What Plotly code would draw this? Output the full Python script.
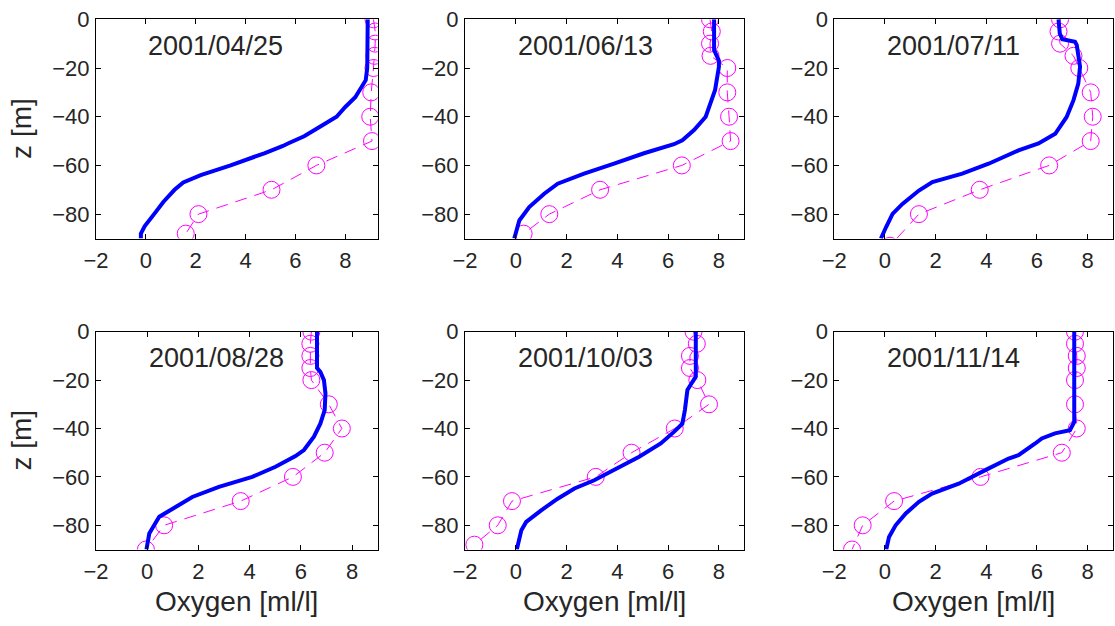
import plotly.graph_objects as go

# dates of the six casts
dates = ['2001/04/25', '2001/06/13', '2001/07/11', '2001/08/28', '2001/10/03', '2001/11/14']

# observed oxygen (circles), depth in m
obs_z_0425 = [0, -5, -10, -15, -20, -30, -40, -50, -60, -70, -80, -88]
obs_x_0425 = [9.13, 9.2, 9.2, 9.17, 9.13, 9.04, 9.0, 9.07, 6.84, 5.04, 2.11, 1.6]
obs_z_0613 = [0, -5, -10, -15, -20, -30, -40, -50, -60, -70, -80, -88]
obs_x_0613 = [7.65, 7.72, 7.65, 7.67, 8.33, 8.33, 8.4, 8.46, 6.54, 3.32, 1.32, 0.31]
obs_z_0711 = [0, -5, -10, -15, -20, -30, -40, -50, -60, -70, -80, -93]
obs_x_0711 = [6.91, 6.85, 6.91, 7.44, 7.67, 8.12, 8.2, 8.12, 6.48, 3.74, 1.34, 0.2]
obs_z_0828 = [0, -5, -10, -15, -20, -30, -40, -50, -60, -70, -80, -90]
obs_x_0828 = [6.41, 6.37, 6.37, 6.37, 6.41, 7.09, 7.6, 6.93, 5.69, 3.65, 0.66, -0.05]
obs_z_1003 = [0, -5, -10, -15, -20, -30, -40, -50, -60, -70, -80, -88]
obs_x_1003 = [7.0, 7.13, 6.86, 6.86, 7.15, 7.61, 6.26, 4.56, 3.15, -0.15, -0.71, -1.63]
obs_z_1114 = [0, -5, -10, -15, -20, -30, -40, -50, -60, -70, -80, -90]
obs_x_1114 = [7.5, 7.5, 7.57, 7.57, 7.5, 7.5, 7.57, 6.98, 3.77, 0.36, -0.88, -1.3]

# modelled oxygen (blue line)
mod_z_0425 = [0, -10, -20, -25, -28, -32, -36, -40, -44, -48, -51, -52, -55, -60, -64, -67, -70, -75, -80, -85, -88, -90]
mod_x_0425 = [8.9, 8.9, 8.88, 8.82, 8.65, 8.4, 8.0, 7.65, 7.0, 6.35, 5.7, 5.5, 4.75, 3.4, 2.2, 1.5, 1.15, 0.7, 0.33, -0.05, -0.2, -0.2]
mod_z_0613 = [0, -12.6, -17, -19.5, -29, -40, -45.5, -49.7, -51.3, -55, -59.3, -63.4, -67.5, -71.6, -77.1, -82.6, -90]
mod_x_0613 = [7.81, 7.81, 8.0, 8.0, 7.85, 7.48, 7.02, 6.56, 6.23, 5.05, 3.87, 2.69, 1.65, 1.12, 0.53, 0.14, -0.06]
mod_z_0711 = [0, -5.8, -8.2, -9.2, -10.6, -14, -19.5, -26.4, -33.2, -40.1, -47, -51, -53.8, -59.3, -63.4, -66.8, -70.3, -75.8, -79.9, -85.4, -90]
mod_x_0711 = [6.85, 6.9, 7.0, 7.5, 7.57, 7.63, 7.7, 7.63, 7.44, 7.17, 6.72, 6.06, 5.27, 4.09, 3.05, 1.87, 1.34, 0.69, 0.3, 0.04, -0.16]
mod_z_0828 = [0, -15, -16.6, -20, -25.5, -32.4, -38, -43.4, -48.9, -51.4, -55.8, -60, -64.1, -68.3, -72.4, -76.5, -80, -83.4, -90]
mod_x_0828 = [6.63, 6.63, 6.76, 6.9, 6.96, 6.93, 6.76, 6.51, 6.12, 5.79, 5.01, 4.1, 2.8, 1.76, 1.11, 0.47, 0.27, 0.08, -0.03]
mod_z_1003 = [0, -18.6, -20.7, -24.1, -32.4, -38, -41.4, -46.2, -51.7, -57.2, -61.4, -64.8, -69, -73.8, -78.6, -82, -90]
mod_x_1003 = [7.09, 7.09, 6.96, 6.76, 6.66, 6.56, 6.23, 5.71, 4.86, 3.87, 3.09, 2.31, 1.65, 1.0, 0.41, 0.22, 0.04]
mod_z_1114 = [0, -37.3, -40.7, -42, -44.1, -46.2, -51, -52.4, -57.2, -62.8, -66.9, -70.3, -75.1, -80, -84.8, -90]
mod_x_1114 = [7.47, 7.47, 7.3, 6.71, 6.19, 5.93, 5.27, 4.88, 3.96, 2.91, 1.86, 1.34, 0.82, 0.42, 0.16, 0.05]

obs = [(obs_x_0425, obs_z_0425), (obs_x_0613, obs_z_0613), (obs_x_0711, obs_z_0711),
       (obs_x_0828, obs_z_0828), (obs_x_1003, obs_z_1003), (obs_x_1114, obs_z_1114)]
mod = [(mod_x_0425, mod_z_0425), (mod_x_0613, mod_z_0613), (mod_x_0711, mod_z_0711),
       (mod_x_0828, mod_z_0828), (mod_x_1003, mod_z_1003), (mod_x_1114, mod_z_1114)]

x_hi = [9.3, 9.0, 9.0, 9.0, 9.0, 9.0]

W, H = 1115, 626
col_px = [(96, 377.7), (465, 744.3), (834.3, 1113)]
row_px = [(19.3, 238.5), (331.7, 549.5)]

FONT = 'Liberation Sans'
TXT = '#262626'

fig = go.Figure()
annotations = []

for i in range(6):
    r, c = divmod(i, 3)
    suffix = '' if i == 0 else str(i + 1)
    xa, ya = 'x' + suffix, 'y' + suffix

    fig.add_trace(go.Scatter(x=obs[i][0], y=obs[i][1], xaxis=xa, yaxis=ya, mode='lines+markers',
                             line=dict(color='#ff00ff', width=1, dash='12px,8px'),
                             marker=dict(symbol='circle-open', size=17, color='#ff00ff', line=dict(width=1)),
                             showlegend=False))
    fig.add_trace(go.Scatter(x=mod[i][0], y=mod[i][1], xaxis=xa, yaxis=ya, mode='lines',
                             line=dict(color='#0000ff', width=4), showlegend=False))

    x0, x1 = col_px[c]
    y0, y1 = row_px[r]
    axis_style = dict(showline=True, linecolor='black', linewidth=1, mirror='allticks',
                      ticks='inside', ticklen=5, tickcolor='black', showgrid=False, zeroline=False,
                      automargin=False, ticklabeloverflow='allow',
                      tickfont=dict(family=FONT, size=22, color=TXT))
    fig.layout['xaxis' + suffix] = dict(axis_style, domain=[x0 / W, x1 / W], range=[-2, x_hi[i]],
                                        tickvals=[-2, 0, 2, 4, 6, 8], anchor=ya, ticklabelstandoff=2)
    fig.layout['yaxis' + suffix] = dict(axis_style, domain=[1 - y1 / H, 1 - y0 / H], range=[-90, 0],
                                        tickvals=[-80, -60, -40, -20, 0], anchor=xa, ticklabelstandoff=1)

    annotations.append(dict(x=0, y=-10.8, xref=xa, yref=ya, text=dates[i], showarrow=False,
                            xanchor='left', yanchor='middle', font=dict(family=FONT, size=27, color=TXT)))

    if c == 0:
        annotations.append(dict(x=22 / W, y=1 - (y0 + y1) / 2 / H, xref='paper', yref='paper',
                                text='z [m]', textangle=-90, showarrow=False, xanchor='center',
                                yanchor='middle', font=dict(family=FONT, size=28, color=TXT)))
    if r == 1:
        annotations.append(dict(x=(x0 + x1) / 2 / W, y=1 - 601 / H, xref='paper', yref='paper',
                                text='Oxygen [ml/l]', showarrow=False, xanchor='center', yanchor='middle',
                                font=dict(family=FONT, size=28, color=TXT)))

fig.update_layout(template='none', width=W, height=H, autosize=False,
                  margin=dict(l=0, r=0, t=0, b=0, autoexpand=False),
                  plot_bgcolor='white', paper_bgcolor='white', annotations=annotations)

# drop the default 8px body margin so the figure fills the window
fig.write_html("out.html", config={'displaylogo': False, 'displayModeBar': False},
               post_script="document.body.style.margin = '0';")
